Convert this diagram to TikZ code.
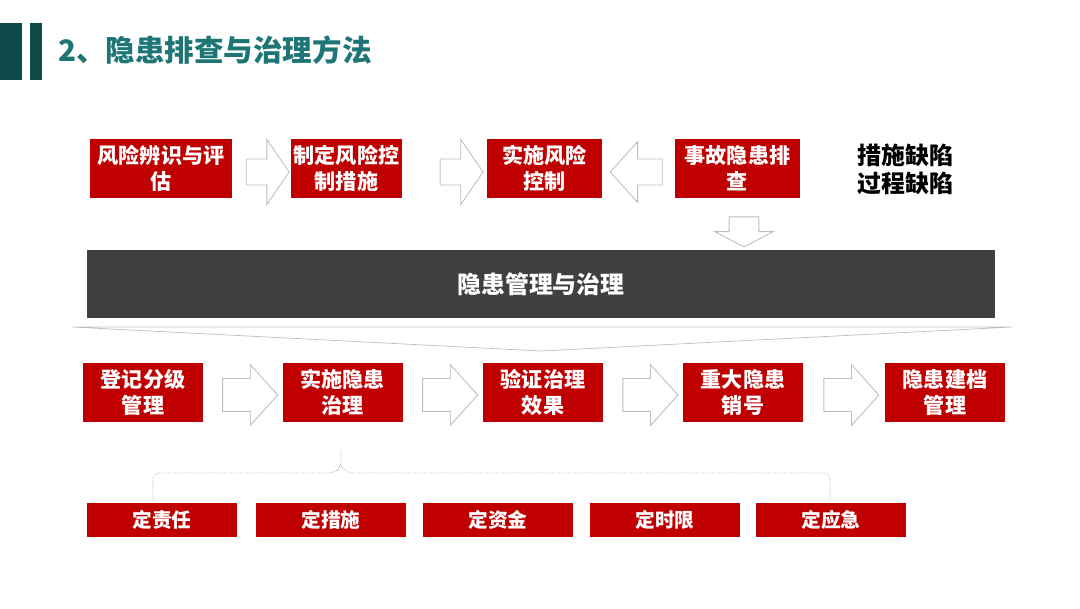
\documentclass[tikz,border=0pt]{standalone}
\usepackage{fontspec}
\setmainfont{Noto Sans CJK SC}
\usetikzlibrary{shapes.arrows}

\definecolor{boxred}{HTML}{C00000}
\definecolor{bardark}{HTML}{404040}
\definecolor{titleteal}{HTML}{1E7575}
\definecolor{markteal}{HTML}{0F4A4A}
\definecolor{arrowgray}{HTML}{BDBDBD}

\begin{document}
\begin{tikzpicture}[
        x=0.025cm, y=-0.025cm,
        redbox/.style={rectangle, fill=boxred, text=white, inner sep=0pt, align=center,
            font=\fontsize{15}{18.5}\selectfont\bfseries},
        topbox/.style={redbox, minimum height=59*\px},
        lowbox/.style={redbox, minimum width=120*\px, minimum height=59*\px},
        smallbox/.style={redbox, minimum width=150*\px, minimum height=34*\px,
            font=\fontsize{14}{14}\selectfont\bfseries},
        blockarrow/.style={single arrow, draw=arrowgray, fill=white, line width=0.6pt, inner xsep=0pt},
        toparrow/.style={blockarrow, minimum height=43*\px, inner ysep=8.9pt,
            single arrow head extend=13.9pt, single arrow tip angle=111},
        lowarrow/.style={blockarrow, minimum height=55*\px, inner ysep=11.4pt,
            single arrow head extend=10pt, single arrow tip angle=96},
        bracket/.style={draw=gray!60, densely dotted, line width=0.6pt, rounded corners=4pt},
    ]

    \def \px {0.025cm}

    \useasboundingbox (0,0) rectangle (1080,608);

    % Title
    \fill[markteal] (0,23) rectangle (22,80);
    \fill[markteal] (30,23) rectangle (42,80);
    \node[anchor=west, inner sep=0pt, text=titleteal, font=\fontsize{21}{21}\selectfont\bfseries]
    (title) at (58,50) {2、隐患排查与治理方法};

    % Upper row
    \node[topbox, minimum width=142*\px] (R1) at (161,168.5) {风险辨识与评\\估};
    \node[topbox, minimum width=111*\px] (R2) at (346.5,168.5) {制定风险控\\制措施};
    \node[topbox, minimum width=115*\px] (R3) at (544.5,168.5) {实施风险\\控制};
    \node[topbox, minimum width=125*\px] (R4) at (737.5,168.5) {事故隐患排\\查};

    \node[align=center, inner sep=0pt, font=\fontsize{17}{20}\selectfont\bfseries]
    (defects) at (905.5,169) {措施缺陷\\过程缺陷};

    \path (R1.east) -- (R2.west)
    node[toparrow, pos=0.53, yshift=-3.5*\px] (A1) {};
    \path (R2.east) -- (R3.west)
    node[toparrow, pos=0.65, yshift=-3.5*\px] (A2) {};
    \path (R3.east) -- (R4.west)
    node[toparrow, pos=0.55, yshift=-3.5*\px, shape border rotate=180,
        minimum height=52*\px, single arrow head extend=12.4pt, single arrow tip angle=96] (A3) {};

    \node[blockarrow, shape border rotate=270, inner xsep=10.3pt, inner ysep=0pt, minimum height=30*\px,
        single arrow head extend=10.3pt, single arrow tip angle=125] (A4) at (744,228) {};

    % Middle bar
    \node[fill=bardark, text=white, inner sep=0pt, minimum width=908*\px, minimum height=68*\px,
        font=\fontsize{17}{17}\selectfont\bfseries] (M) at (541,284) {隐患管理与治理};

    \draw[arrowgray, line width=0.5pt] (72,327) -- (1012,327) -- (541,351) -- cycle;

    % Lower row
    \node[lowbox] (B1) at (143,392.5) {登记分级\\管理};
    \node[lowbox] (B2) at (342.5,392.5) {实施隐患\\治理};
    \node[lowbox] (B3) at (543,392.5) {验证治理\\效果};
    \node[lowbox] (B4) at (743,392.5) {重大隐患\\销号};
    \node[lowbox] (B5) at (945,392.5) {隐患建档\\管理};

    \path (B1.east) -- (B2.west) node[lowarrow, midway, yshift=-2.5*\px] (L1) {};
    \path (B2.east) -- (B3.west) node[lowarrow, midway, yshift=-2.5*\px] (L2) {};
    \path (B3.east) -- (B4.west) node[lowarrow, midway, yshift=-2.5*\px] (L3) {};
    \path (B4.east) -- (B5.west) node[lowarrow, midway, yshift=-2.5*\px] (L4) {};

    % Five measures
    \node[smallbox] (D1) at (162,520) {定责任};
    \node[smallbox] (D2) at (331,520) {定措施};
    \node[smallbox] (D3) at (498,520) {定资金};
    \node[smallbox] (D4) at (665,520) {定时限};
    \node[smallbox] (D5) at (831,520) {定应急};

    \coordinate (tip) at (341,449);
    \draw[bracket] (153,501) -- (153,473) -- (335,473) -- (341,466) -- (tip);
    \draw[bracket] (341,466) -- (347,473) -- (830,473) -- (830,501);
\end{tikzpicture}
\end{document}
